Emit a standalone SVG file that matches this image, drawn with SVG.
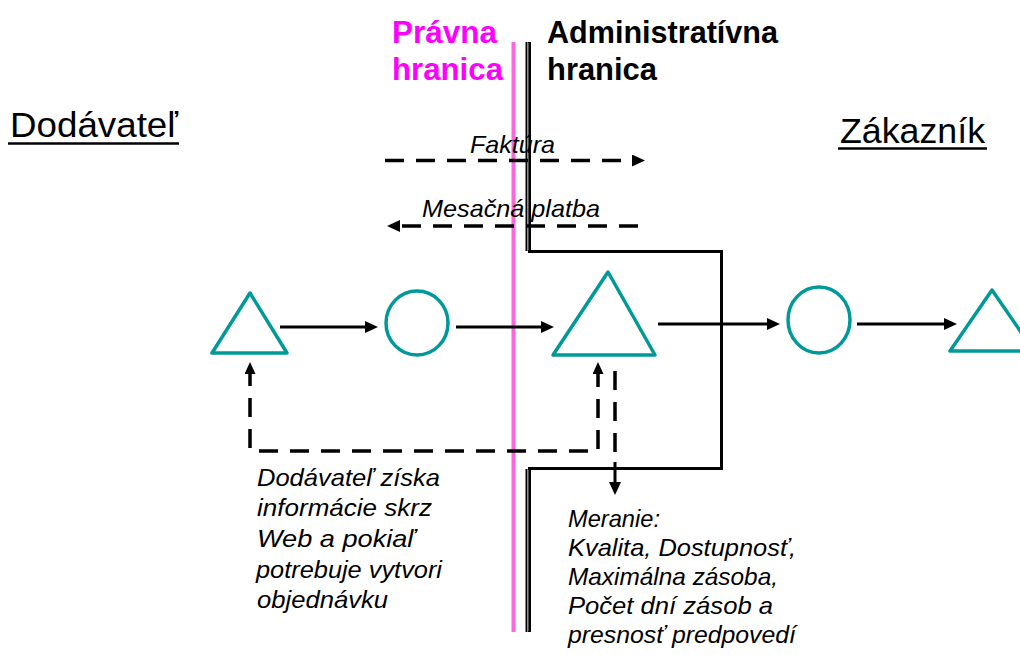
<svg xmlns="http://www.w3.org/2000/svg" width="1020" height="655" viewBox="0 0 1020 655">
<style>
.shape{fill:none;stroke:#009999;stroke-width:3.5;stroke-linejoin:round}
.conn{fill:none;stroke:#000;stroke-width:3}
.dash{fill:none;stroke:#000;stroke-width:3.5;stroke-dasharray:19 12}
.head{font-family:"Liberation Sans",Arial,sans-serif;font-weight:bold;font-size:31px}
.big{font-family:"Liberation Sans",Arial,sans-serif;font-size:35px;fill:#000}
.it{font-family:"Liberation Sans",Arial,sans-serif;font-style:italic;font-size:24px;fill:#000}
</style>
<defs>
<marker id="arr" viewBox="0 0 13 12" refX="7" refY="6" markerWidth="13" markerHeight="12" markerUnits="userSpaceOnUse" orient="auto-start-reverse">
<path d="M0,0 L13,6 L0,12 z" fill="#000"/>
</marker>
<marker id="arrs" viewBox="0 0 12 11" refX="6" refY="5.5" markerWidth="12" markerHeight="11" markerUnits="userSpaceOnUse" orient="auto-start-reverse">
<path d="M0,0 L12,5.5 L0,11 z" fill="#000"/>
</marker>
</defs>
<rect width="1020" height="655" fill="#fff"/>

<g id="boundaries">
<line x1="513.5" y1="42" x2="513.5" y2="632" stroke="#ff66dd" stroke-width="4"/>
<path d="M529.5,42 V251.5 H721.5 V468.5 H529.5 V632" fill="none" stroke="#000" stroke-width="3"/>
<line x1="526.5" y1="42" x2="526.5" y2="251" stroke="#000" stroke-width="2"/>
<line x1="526.5" y1="469" x2="526.5" y2="632" stroke="#000" stroke-width="2"/>
<line x1="528" y1="43" x2="528" y2="250" stroke="#999" stroke-width="1"/>
<line x1="528" y1="470" x2="528" y2="631" stroke="#999" stroke-width="1"/>
</g>

<g id="labels-top">
<text class="head" fill="#ff00ff" x="392" y="43" textLength="105" lengthAdjust="spacingAndGlyphs">Právna</text>
<text class="head" fill="#ff00ff" x="392" y="80" textLength="111" lengthAdjust="spacingAndGlyphs">hranica</text>
<text class="head" fill="#000" x="547" y="43" textLength="231" lengthAdjust="spacingAndGlyphs">Administratívna</text>
<text class="head" fill="#000" x="547" y="80" textLength="110" lengthAdjust="spacingAndGlyphs">hranica</text>
</g>

<g id="supplier-label">
<text class="big" x="10" y="137" textLength="168" lengthAdjust="spacingAndGlyphs">Dodávateľ</text>
<line x1="8" y1="143.5" x2="179" y2="143.5" stroke="#000" stroke-width="2.5"/>
</g>
<g id="customer-label">
<text class="big" x="840" y="143" textLength="145" lengthAdjust="spacingAndGlyphs">Zákazník</text>
<line x1="838" y1="148.5" x2="987" y2="148.5" stroke="#000" stroke-width="2.5"/>
</g>

<g id="connectors">
<line class="dash" x1="385" y1="160.5" x2="639" y2="160.5" marker-end="url(#arr)"/>
<line class="dash" x1="638" y1="226" x2="393" y2="226" marker-end="url(#arr)"/>
<line class="conn" x1="280" y1="327" x2="372" y2="327" marker-end="url(#arr)"/>
<line class="conn" x1="456" y1="327" x2="548" y2="327" marker-end="url(#arr)"/>
<line class="conn" x1="658" y1="324" x2="774" y2="324" marker-end="url(#arr)"/>
<line class="conn" x1="857" y1="324" x2="951" y2="324" marker-end="url(#arr)"/>
<path class="dash" d="M598,368 V451 H250 V368" marker-start="url(#arrs)" marker-end="url(#arrs)" stroke-dasharray="18 12"/>
<line class="dash" x1="615" y1="371" x2="615" y2="454" stroke-dasharray="18 12"/>
<line class="conn" x1="615" y1="462" x2="615" y2="489" marker-end="url(#arr)"/>
</g>

<g id="triangle-1"><polygon class="shape" points="250,293 212,353 287,353"/></g>
<g id="circle-1"><ellipse class="shape" cx="417" cy="323" rx="31" ry="32"/></g>
<g id="triangle-2"><polygon class="shape" points="608,272 553,355 655,355"/></g>
<g id="circle-2"><ellipse class="shape" cx="819" cy="320" rx="31" ry="33"/></g>
<g id="triangle-3"><polygon class="shape" points="992,290 950,351 1034,351"/></g>

<g id="label-faktura"><text class="it" x="470" y="153" textLength="85" lengthAdjust="spacingAndGlyphs">Faktúra</text></g>
<g id="label-platba"><text class="it" x="422" y="217" textLength="178" lengthAdjust="spacingAndGlyphs">Mesačná platba</text></g>

<g id="label-supplier-info">
<text class="it" x="257" y="486" textLength="183" lengthAdjust="spacingAndGlyphs">Dodávateľ získa</text>
<text class="it" x="257" y="516" textLength="175" lengthAdjust="spacingAndGlyphs">informácie skrz</text>
<text class="it" x="257" y="547" textLength="158" lengthAdjust="spacingAndGlyphs">Web a pokiaľ</text>
<text class="it" x="256" y="578" textLength="186" lengthAdjust="spacingAndGlyphs">potrebuje vytvori</text>
<text class="it" x="257" y="608" textLength="131" lengthAdjust="spacingAndGlyphs">objednávku</text>
</g>

<g id="label-meranie">
<text class="it" x="568" y="527" textLength="92" lengthAdjust="spacingAndGlyphs">Meranie:</text>
<text class="it" x="568" y="556" textLength="228" lengthAdjust="spacingAndGlyphs">Kvalita, Dostupnosť,</text>
<text class="it" x="568" y="585" textLength="210" lengthAdjust="spacingAndGlyphs">Maximálna zásoba,</text>
<text class="it" x="568" y="614" textLength="205" lengthAdjust="spacingAndGlyphs">Počet dní zásob a</text>
<text class="it" x="568" y="643" textLength="228" lengthAdjust="spacingAndGlyphs">presnosť predpovedí</text>
</g>
</svg>
